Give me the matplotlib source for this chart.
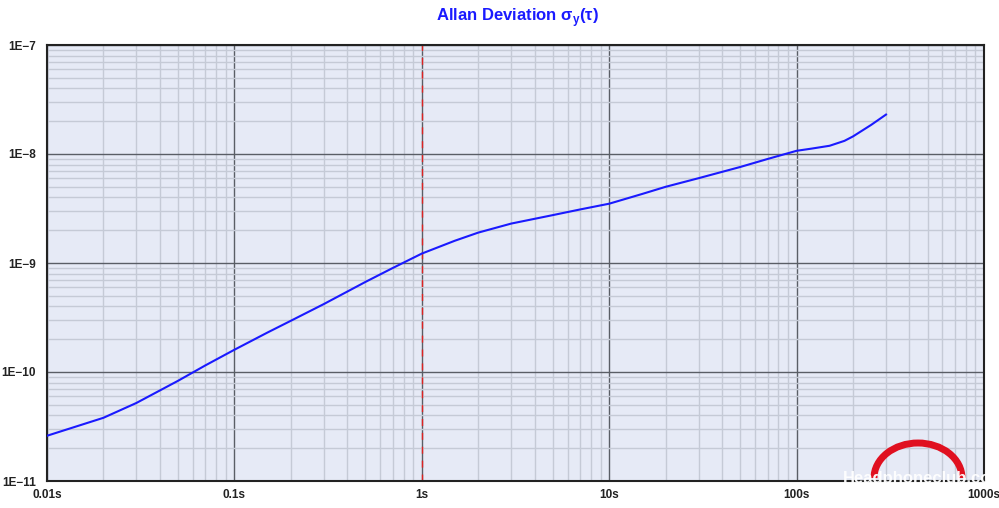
import matplotlib
matplotlib.use("Agg")
import matplotlib.pyplot as plt
from matplotlib.ticker import LogLocator, FixedLocator, NullFormatter
from matplotlib.patches import Arc
import numpy as np

plt.rcParams['font.family'] = ['Liberation Sans', 'DejaVu Sans']

tau = [0.01, 0.02, 0.03, 0.05, 0.07, 0.1, 0.15, 0.2, 0.3, 0.5, 0.7, 1, 1.5, 2, 3, 5, 7, 10, 15,
       20, 30, 50, 70, 100, 120, 150, 180, 200, 250, 300]
adev = [2.6e-11, 3.8e-11, 5.2e-11, 8.3e-11, 1.15e-10, 1.6e-10, 2.3e-10, 2.95e-10, 4.2e-10,
        6.7e-10, 9.0e-10, 1.22e-9, 1.6e-9, 1.9e-9, 2.3e-9, 2.75e-9, 3.1e-9, 3.5e-9, 4.3e-9,
        5.0e-9, 6.0e-9, 7.6e-9, 9.0e-9, 1.07e-8, 1.12e-8, 1.19e-8, 1.32e-8, 1.45e-8, 1.85e-8, 2.3e-8]

x_ticks = [0.01, 0.1, 1, 10, 100, 1000]
x_labels = ["0.01s", "0.1s", "1s", "10s", "100s", "1000s"]
y_ticks = [1e-11, 1e-10, 1e-9, 1e-8, 1e-7]
y_labels = ["1E\u221211", "1E\u221210", "1E\u22129", "1E\u22128", "1E\u22127"]

fig = plt.figure(figsize=(9.99, 5.08), dpi=100)
ax = fig.add_axes([47/999, 27/508, (984-47)/999, (481-45)/508])
ax.set_facecolor("#e6eaf6")
ax.set_xscale("log")
ax.set_yscale("log")
ax.set_xlim(0.01, 1000)
ax.set_ylim(1e-11, 1e-7)

ax.xaxis.set_major_locator(FixedLocator(x_ticks))
ax.yaxis.set_major_locator(FixedLocator(y_ticks))
ax.set_xticklabels(x_labels)
ax.set_yticklabels(y_labels)
ax.xaxis.set_minor_locator(LogLocator(base=10, subs=np.arange(2, 10), numticks=20))
ax.yaxis.set_minor_locator(LogLocator(base=10, subs=np.arange(2, 10), numticks=20))
ax.xaxis.set_minor_formatter(NullFormatter())
ax.yaxis.set_minor_formatter(NullFormatter())

ax.grid(which="minor", color="#c5cad6", linewidth=1.0)
ax.grid(which="major", color="#5a5e66", linewidth=1.0)
ax.set_axisbelow(True)
ax.tick_params(which="both", length=0)
ax.tick_params(axis="x", pad=6)
ax.tick_params(axis="y", pad=8)
for lab in ax.get_xticklabels() + ax.get_yticklabels():
    lab.set_fontsize(8.5)
    lab.set_fontweight("bold")
    lab.set_color("#222222")
for sp in ax.spines.values():
    sp.set_color("#222222")
    sp.set_linewidth(1.5)

ax.axvline(1, color="#dd2222", linestyle=(0, (5, 5)), linewidth=1.0, zorder=2)
ax.plot(tau, adev, color="#1a1aff", linewidth=1.5, zorder=3)

fig.text(517/999, 1 - 18/508, "Allan Deviation \u03c3$_\\mathregular{y}$(\u03c4)",
         ha="center", va="center", color="#1a1aff", fontsize=12, fontweight="bold")

# watermark
arc_ax = fig.add_axes([0, 0, 1, 1], facecolor="none")
arc_ax.set_xlim(0, 999)
arc_ax.set_ylim(508, 0)
arc_ax.axis("off")
arc_ax.add_patch(Arc((918, 478), 88, 70, theta1=180, theta2=360, color="#e01020", linewidth=5))
arc_ax.text(843, 478, "Headphoneclub.co", color="white", fontsize=12, fontweight="bold",
            va="center", ha="left", alpha=0.95)

fig.savefig("out.png", dpi=100)
